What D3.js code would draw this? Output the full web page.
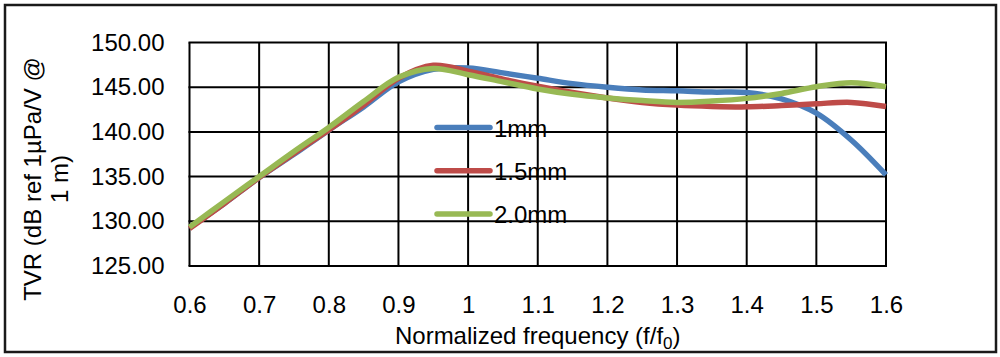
<!DOCTYPE html>
<html>
<head>
<meta charset="utf-8">
<script src="https://cdn.jsdelivr.net/npm/d3@7"></script>
<style>
  html, body { margin: 0; padding: 0; background: #fff; }
  svg { display: block; }
  text { font-family: "Liberation Sans", Arial, sans-serif; fill: #000; }
</style>
</head>
<body>
<svg id="chart" width="1000" height="357"></svg>
<script>
// ---- data ----
const freq = [0.6, 0.65, 0.7, 0.75, 0.8, 0.85, 0.9, 0.95, 1.0, 1.05, 1.1, 1.15, 1.2, 1.25, 1.3, 1.35, 1.4, 1.45, 1.5, 1.55, 1.6];
const tvr1mm  = [129.3, 132.0, 134.9, 137.5, 140.2, 142.8, 145.6, 147.0, 147.15, 146.6, 146.0, 145.4, 145.0, 144.7, 144.6, 144.45, 144.4, 143.7, 142.1, 139.1, 135.2];
const tvr15mm = [129.2, 132.0, 134.9, 137.6, 140.2, 143.0, 146.0, 147.45, 146.8, 145.9, 145.1, 144.4, 143.8, 143.3, 143.0, 142.85, 142.8, 142.95, 143.15, 143.3, 142.85];
const tvr20mm = [129.35, 132.2, 135.0, 137.8, 140.5, 143.4, 146.1, 147.1, 146.4, 145.6, 144.8, 144.2, 143.8, 143.5, 143.3, 143.45, 143.75, 144.3, 145.05, 145.5, 145.05];
const seriesNames = ["1mm", "1.5mm", "2.0mm"];
const seriesColors = ["#4A7EBB", "#BE4B48", "#98B954"];
const xTicks = [0.6, 0.7, 0.8, 0.9, 1.0, 1.1, 1.2, 1.3, 1.4, 1.5, 1.6];
const yTicks = [125, 130, 135, 140, 145, 150];
const yTitleLines = ["TVR (dB ref 1\u00B5Pa/V @", "1 m)"];

const svg = d3.select("#chart");
const W = 1000, H = 357;

// outer frame
svg.append("rect").attr("x", 5).attr("y", 5).attr("width", 991).attr("height", 347)
  .attr("fill", "#fff").attr("stroke", "#1a1a1a").attr("stroke-width", 2.5);

const x = d3.scaleLinear().domain([0.6, 1.6]).range([189.5, 886]);
const y = d3.scaleLinear().domain([125, 150]).range([266, 42.5]);

// gridlines
const grid = svg.append("g");
grid.selectAll(".vg").data(xTicks).join("line")
  .attr("x1", d => x(d)).attr("x2", d => x(d))
  .attr("y1", y(150)).attr("y2", y(125))
  .attr("stroke", "#000").attr("stroke-width", 2);
grid.selectAll(".hg").data(yTicks).join("line")
  .attr("x1", x(0.6) - 1).attr("x2", x(1.6) + 1)
  .attr("y1", d => y(d)).attr("y2", d => y(d))
  .attr("stroke", "#000").attr("stroke-width", 2);

// axes labels via d3 axes (no tick lines / domain)
const yAxis = svg.append("g").attr("transform", `translate(${x(0.6)},0)`)
  .call(d3.axisLeft(y).tickValues(yTicks).tickFormat(d3.format(".2f")).tickSize(0).tickPadding(25));
yAxis.select(".domain").remove();
yAxis.selectAll("text").attr("font-size", 24).attr("font-family", "Liberation Sans, Arial, sans-serif").attr("fill", "#000");

const xAxis = svg.append("g").attr("transform", `translate(0,${y(125)})`)
  .call(d3.axisBottom(x).tickValues(xTicks).tickFormat(d => d3.format("")(+d.toFixed(1))).tickSize(0).tickPadding(30));
xAxis.select(".domain").remove();
xAxis.selectAll("text").attr("font-size", 24).attr("font-family", "Liberation Sans, Arial, sans-serif").attr("fill", "#000");

// series
const allSeries = [tvr1mm, tvr15mm, tvr20mm];
const line = d3.line().x((d, i) => x(freq[i])).y(d => y(d)).curve(d3.curveCatmullRom.alpha(0.5));
allSeries.forEach((vals, k) => {
  svg.append("path").datum(vals).attr("d", line)
    .attr("fill", "none").attr("stroke", seriesColors[k]).attr("stroke-width", 5.5)
    .attr("stroke-linejoin", "round").attr("stroke-linecap", "butt");
});

// legend
const leg = svg.append("g");
seriesNames.forEach((name, k) => {
  const ly = 127.5 + k * 43.3;
  leg.append("line").attr("x1", 437).attr("x2", 490).attr("y1", ly).attr("y2", ly)
    .attr("stroke", seriesColors[k]).attr("stroke-width", 5.5).attr("stroke-linecap", "round");
  leg.append("text").attr("x", 494).attr("y", ly + 9).attr("font-size", 24).text(name);
});

// axis titles
const xt = svg.append("text").attr("x", (x(0.6) + x(1.6)) / 2).attr("y", 344)
  .attr("text-anchor", "middle").attr("font-size", 24);
xt.append("tspan").text("Normalized frequency (f/f");
xt.append("tspan").attr("font-size", 17).attr("dy", 5).text("0");
xt.append("tspan").attr("dy", -5).text(")");

yTitleLines.forEach((t, i) => {
  svg.append("text").attr("transform", `translate(${41 + i * 27},179) rotate(-90)`)
    .attr("text-anchor", "middle").attr("font-size", 24).text(t);
});
</script>
</body>
</html>
